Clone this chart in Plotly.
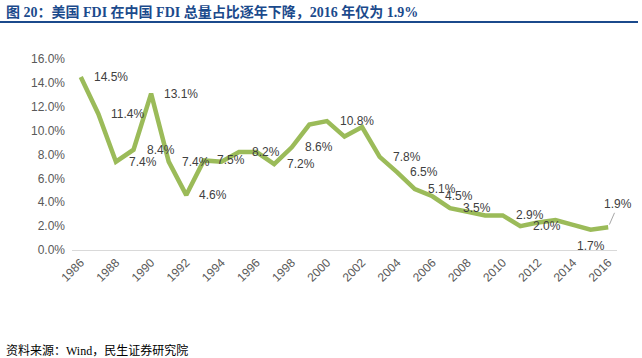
import plotly.graph_objects as go

years = list(range(1986, 2017))
share = [14.5, 11.4, 7.4, 8.4, 13.1, 7.4, 4.6, 7.5, 7.4, 8.2, 8.2, 7.2, 8.6, 10.5, 10.8,
         9.5, 10.3, 7.8, 6.5, 5.1, 4.5, 3.5, 3.2, 2.9, 2.9, 2.0, 2.3, 2.5, 2.1, 1.7, 1.9]
labeled_years = [1986, 1987, 1988, 1989, 1990, 1991, 1992, 1993, 1995, 1997, 1998, 2000,
                 2003, 2004, 2005, 2006, 2007, 2010, 2011]
below_years = [2015]
leader_years = [2016]
y_ticks = [0, 2, 4, 6, 8, 10, 12, 14, 16]
x_ticks = list(range(1986, 2017, 2))

title = "图 20：美国 FDI 在中国 FDI 总量占比逐年下降，2016 年仅为 1.9%"
source = "资料来源：Wind，民生证券研究院"

W, H = 642, 358
L, R, T, B = 72, 25, 59, 108
pw, ph = W - L - R, H - T - B


def px(xpix):
    return (xpix - L) / pw


def py(ypix):
    return (H - B - ypix) / ph


val = dict(zip(years, share))

fig = go.Figure()
fig.add_trace(go.Scatter(
    x=years, y=share, mode="lines",
    line=dict(color="#9BBB59", width=4.5),
    hoverinfo="skip", showlegend=False, cliponaxis=False))

lab_font = dict(family="Liberation Sans, Arial, sans-serif", size=12, color="#404040")
ann = []
for y in labeled_years:
    ann.append(dict(x=y, y=val[y], xref="x", yref="y", text=f"{val[y]:.1f}%",
                    showarrow=False, xanchor="left", yanchor="middle", xshift=11,
                    font=lab_font))
for y in below_years:
    ann.append(dict(x=y, y=val[y], xref="x", yref="y", text=f"{val[y]:.1f}%",
                    showarrow=False, xanchor="center", yanchor="middle", yshift=-16,
                    font=lab_font))
for y in leader_years:
    ann.append(dict(x=y, y=val[y], xref="x", yref="y", text=f"{val[y]:.1f}%",
                    showarrow=True, arrowhead=0, arrowwidth=1, arrowcolor="#A6A6A6",
                    ax=10, ay=-23, standoff=3, font=lab_font))

serif_cjk = "Liberation Serif, Times New Roman, Noto Sans CJK SC, serif"
ann.append(dict(x=px(4), y=py(12), xref="paper", yref="paper", xanchor="left", yanchor="middle",
                text="<b>" + title + "</b>", showarrow=False,
                font=dict(family=serif_cjk, size=14, color="#1B4A8C")))
ann.append(dict(x=px(4), y=py(350), xref="paper", yref="paper", xanchor="left", yanchor="middle",
                text=source, showarrow=False,
                font=dict(family=serif_cjk, size=12, color="#000000")))

shapes = [dict(type="line", xref="paper", yref="paper", x0=px(0), x1=px(638),
               y0=py(22), y1=py(22), line=dict(color="#1B4A8C", width=2))]

tick_font = dict(family="Liberation Sans, Arial, sans-serif", size=12, color="#595959")
fig.update_layout(
    width=W, height=H,
    margin=dict(l=L, r=R, t=T, b=B, autoexpand=False),
    plot_bgcolor="white", paper_bgcolor="white",
    annotations=ann, shapes=shapes,
    xaxis=dict(range=[1985.5, 2016.5], tickmode="array", tickvals=x_ticks,
               ticktext=[str(v) for v in x_ticks], tickangle=-45, automargin=False,
               showgrid=False, showline=True, linecolor="#D9D9D9", linewidth=1,
               ticks="", zeroline=False, tickfont=tick_font),
    yaxis=dict(range=[0, 16], tickmode="array", tickvals=y_ticks, automargin=False,
               ticktext=[f"{v:.1f}%" for v in y_ticks], showgrid=False, zeroline=False,
               showline=False, ticks="", ticklabelstandoff=6, tickfont=tick_font),
)

fig.write_html("out.html", config={"displayModeBar": False},
               post_script="document.body.style.margin='0';document.body.style.padding='0';")
